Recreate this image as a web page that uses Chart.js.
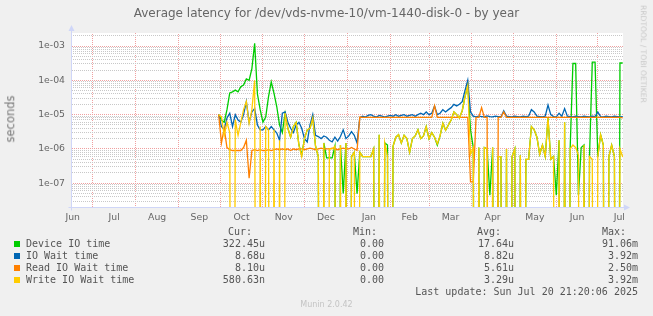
<!DOCTYPE html>
<html>
<head>
<meta charset="utf-8">
<script src="https://cdn.jsdelivr.net/npm/chart.js@4.4.0/dist/chart.umd.min.js"></script>
<style>
  html, body { margin: 0; padding: 0; background: #f0f0f0; }
  #wrap { position: relative; width: 653px; height: 316px; overflow: hidden; font-family: "DejaVu Sans", sans-serif; color: #666; }
  #chart { position: absolute; left: 0; top: 0; }
  .t { position: absolute; white-space: pre; line-height: 1; }
  .title { left: 0; width: 653px; top: 7px; text-align: center; font-size: 12px; }
  .ylab { left: 11px; top: 119px; font-size: 11.5px; color: #777; transform: translate(-50%, -50%) rotate(-90deg); }
  .rrd { left: 643px; top: 54px; font-size: 7.6px; color: #c8c8c8; transform: translate(-50%, -50%) rotate(90deg); }
  .munin { left: 0; width: 653px; top: 301px; text-align: center; font-size: 8px; color: #c4c4c4; }
  .lg { position: absolute; white-space: pre; font-family: "DejaVu Sans Mono", monospace; font-size: 10px; line-height: 12px; color: #555; }
  .sq { position: absolute; width: 6px; height: 6px; }
</style>
</head>
<body>
<div id="wrap">
  <canvas id="chart" width="653" height="316"></canvas>
  <div class="t title">Average latency for /dev/vds-nvme-10/vm-1440-disk-0 - by year</div>
  <div class="t ylab">seconds</div>
  <div class="t rrd">RRDTOOL / TOBI OETIKER</div>
  <div class="t munin">Munin 2.0.42</div>
  <div id="legend"></div>
</div>
<script>
// x positions in days since 2024-06-16 (left edge of the plot)
const days = [106,108,110,112,114,116,118,120,122,124,
  126,128,130,132,134,136,138,140,142,144,
  146,148,150,152,154,156,158,160,162,164,
  166,168,170,172,174,176,178,180,182,184,
  186,188,190,192,194,196,198,200,202,204,
  206,208,210,212,214,216,218,220,222,224,
  226,228,230,232,234,236,238,240,242,244,
  246,248,250,252,254,256,258,260,262,264,
  266,268,270,272,274,276,278,280,282,284,
  286,288,290,292,294,296,298,300,302,304,
  306,308,310,312,314,316,318,320,322,324,
  326,328,330,332,334,336,338,340,342,344,
  346,348,350,352,354,356,358,360,362,364,
  366,368,370,372,374,376,378,380,382,384,
  386,388,390,392,394,396,398];

// seconds; 0 = no latency (drawn down to the bottom edge)
const deviceIO = [1e-5,7e-6,6e-6,1.4e-5,4.3e-5,4.6e-5,5.2e-5,4.6e-5,6.5e-5,7.3e-5,
  1.1e-4,1e-4,2.2e-4,1.2e-3,4e-5,1.4e-5,6e-6,8.5e-6,3.3e-5,9e-5,
  4.2e-5,1.7e-5,5e-6,3e-6,1.1e-5,4e-6,2.2e-6,4.5e-6,6e-6,1.3e-6,
  6.7e-7,2e-6,3.6e-6,4e-6,8e-6,1.2e-6,6e-7,0,1.5e-6,5.5e-7,
  5.5e-7,5.5e-7,1.2e-6,0,1.3e-6,5e-8,1.5e-6,0,6e-7,8e-7,
  5e-8,8e-7,6e-7,6e-7,6e-7,6e-7,1e-6,0,2.6e-6,0,
  1.5e-6,1.3e-6,0,1.2e-6,2.2e-6,2.6e-6,1.5e-6,2.5e-6,2e-6,8e-7,
  2e-6,2.4e-6,3.6e-6,2e-6,2.4e-6,4.5e-6,2e-6,3e-6,2.2e-6,1.3e-6,
  2.4e-6,5.6e-6,3.5e-6,5e-6,7e-6,1.2e-5,1e-5,8e-6,1.3e-5,3.3e-5,
  7e-5,3.6e-6,1.1e-6,0,1.1e-6,0,1.1e-6,1e-6,4.5e-8,1.1e-6,
  0,6e-7,6e-7,0,1e-6,0,6e-7,1e-6,0,6.5e-7,
  0,5e-7,5e-7,4.5e-6,3.6e-6,2.2e-6,7e-7,1.3e-6,6e-7,8e-6,
  5e-7,6e-7,4.5e-8,1.8e-6,0,6e-6,0,1e-6,3.1e-4,3.1e-4,
  4.5e-8,1.1e-6,1.3e-6,0,6e-7,3.4e-4,3.4e-4,6e-7,2.6e-6,1.3e-6,
  0,6e-7,1.3e-6,6e-7,0,3.2e-4,3.2e-4];

const ioWait = [1e-5,4.5e-6,3.6e-6,8e-6,1.1e-5,4.5e-6,1e-5,7e-6,6e-6,1e-5,
  2.4e-5,6e-6,1.2e-5,1.5e-5,5e-6,3.6e-6,3.6e-6,4.5e-6,3.6e-6,4.5e-6,
  3.6e-6,2.9e-6,1.8e-6,1.1e-5,1.2e-5,6e-6,4e-6,3e-6,5e-6,6e-6,
  4e-6,2e-6,1.6e-6,5e-6,1e-5,2.5e-6,2.3e-6,2e-6,2.4e-6,2.2e-6,
  1.8e-6,1.6e-6,2.2e-6,1.7e-6,2.3e-6,3.6e-6,2e-6,2.4e-6,3.2e-6,2.5e-6,
  1.5e-6,8.2e-6,9e-6,8.5e-6,9.5e-6,1e-5,9e-6,8.5e-6,9.5e-6,9e-6,
  8.5e-6,9e-6,9.5e-6,9e-6,1e-5,9e-6,9.5e-6,1e-5,9e-6,9.5e-6,
  1e-5,9e-6,1e-5,1.1e-5,1e-5,1.2e-5,1e-5,1.1e-5,1.8e-5,1e-5,
  1.1e-5,1.4e-5,1.2e-5,1.4e-5,1.6e-5,2e-5,1.8e-5,2e-5,2.4e-5,5e-5,
  1e-4,1.2e-5,9e-6,8.6e-6,9e-6,8.8e-6,8.6e-6,9.2e-6,8.8e-6,8.6e-6,
  9e-6,8.8e-6,8.6e-6,1.3e-5,9e-6,8.8e-6,8.6e-6,9e-6,8.8e-6,8.6e-6,
  9e-6,8.8e-6,9e-6,1.4e-5,1.2e-5,9e-6,8.8e-6,8.6e-6,9e-6,1.9e-5,
  1e-5,8.8e-6,8.6e-6,1.1e-5,9e-6,1.5e-5,9e-6,8.8e-6,8.6e-6,9e-6,
  8.8e-6,8.6e-6,9e-6,8.8e-6,8.6e-6,9e-6,8.8e-6,1.2e-5,8.8e-6,8.6e-6,
  9e-6,8.8e-6,8.6e-6,9e-6,8.8e-6,8.6e-6,8.7e-6];

const readWait = [1e-5,1.5e-6,4e-6,1.1e-6,9.5e-7,9e-7,9e-7,9e-7,9e-7,1.1e-6,
  1.8e-6,1.4e-7,9e-7,9.5e-7,9e-7,9.5e-7,9e-7,9e-7,9.5e-7,9e-7,
  9.5e-7,1e-6,9.5e-7,1e-6,9.5e-7,1e-6,9e-7,1e-6,9.5e-7,1e-6,
  1e-6,9.5e-7,1e-6,1.05e-6,1e-6,9.5e-7,1e-6,1.05e-6,1e-6,1e-6,
  1e-6,1.05e-6,1e-6,9.5e-7,1e-6,1.05e-6,1e-6,1e-6,1.1e-6,1e-6,
  9e-7,8.5e-6,8.3e-6,8.3e-6,8.3e-6,8.3e-6,8.3e-6,8.3e-6,8.3e-6,8.3e-6,
  8.3e-6,8.3e-6,8.3e-6,8.3e-6,8.3e-6,8.3e-6,8.3e-6,8.3e-6,8.3e-6,8.3e-6,
  8.3e-6,8.3e-6,8.3e-6,8.3e-6,8.3e-6,8.3e-6,8.3e-6,8.3e-6,1.8e-5,8.3e-6,
  8.3e-6,8.3e-6,8.3e-6,8.3e-6,8.3e-6,8.3e-6,8.3e-6,8.3e-6,8.3e-6,8.3e-6,
  8.3e-6,1.1e-7,1.1e-7,8.3e-6,8.3e-6,1.6e-5,8.3e-6,8.3e-6,0,0,
  0,8.3e-6,8.3e-6,1.2e-5,8.3e-6,8.3e-6,8.3e-6,8.3e-6,8.3e-6,8.3e-6,
  8.3e-6,8.3e-6,8.3e-6,8.3e-6,8.3e-6,8.3e-6,8.3e-6,8.3e-6,8.3e-6,8.3e-6,
  8.3e-6,8.3e-6,8.3e-6,8.3e-6,8.3e-6,8.3e-6,8.3e-6,8.3e-6,8.3e-6,8.3e-6,
  8.3e-6,8.3e-6,8.3e-6,8.3e-6,8.3e-6,8.3e-6,8.3e-6,8.3e-6,8.3e-6,8.3e-6,
  8.3e-6,8.3e-6,8.3e-6,8.3e-6,8.3e-6,8.3e-6,8.1e-6];

const writeWait = [1e-5,8.7e-6,2.5e-6,6e-6,3e-6,0,7e-6,2.5e-6,6e-6,1.4e-5,
  2.4e-5,5.5e-6,1.4e-5,1e-4,0,4.5e-6,0,4.5e-6,3.6e-6,0,
  3.6e-6,0,1.8e-6,0,1.1e-5,4e-6,2.2e-6,4.5e-6,6e-6,1.3e-6,
  6e-7,2e-6,3.6e-6,4e-6,8e-6,1.2e-6,6e-7,0,1.5e-6,0,
  1e-6,1e-6,1.2e-6,0,1.3e-6,0,1.5e-6,0,6e-7,8e-7,
  0,8e-7,6e-7,6e-7,6e-7,6e-7,1e-6,0,2.6e-6,0,
  1.5e-6,6e-7,0,1.2e-6,2.2e-6,2.6e-6,1.5e-6,2.5e-6,2e-6,8e-7,
  2e-6,2.4e-6,3.6e-6,2e-6,2.4e-6,4.5e-6,2e-6,3e-6,2.2e-6,1.4e-6,
  2.4e-6,5.6e-6,3.5e-6,5e-6,7e-6,1.2e-5,1e-5,8e-6,1.3e-5,3.3e-5,
  7e-5,7e-7,1.1e-6,0,1.1e-6,0,1.1e-6,1e-6,0,1.1e-6,
  0,6e-7,6e-7,0,1e-6,0,6e-7,1e-6,0,6.5e-7,
  0,5e-7,5e-7,4.5e-6,3.6e-6,2.2e-6,7e-7,1.3e-6,6e-7,8e-6,
  5e-7,6e-7,0,1.8e-6,0,6e-6,0,1e-6,1.3e-6,1.1e-6,
  6.5e-7,0,1.3e-6,0,6e-7,5e-7,0,6e-7,2.6e-6,1.3e-6,
  0,6e-7,1.3e-6,6e-7,0,1e-6,5.8e-7];

const monthStartDays = [15,46,77,107,138,168,199,230,258,289,319,350,380];
const monthLabelDays = [0.5,30.5,61.5,92,122.5,153,183.5,214.5,244,273.5,304,334.5,365,395.5];
const monthLabels = ['Jun','Jul','Aug','Sep','Oct','Nov','Dec','Jan','Feb','Mar','Apr','May','Jun','Jul'];
const yDecades = [1e-7,1e-6,1e-5,1e-4,1e-3];
const yTickLabels = ['1e-07','1e-06','1e-05','1e-04','1e-03'];

const seriesNames = ['Device IO time','IO Wait time','Read IO Wait time','Write IO Wait time'];
const seriesColors = ['#00cc00','#0066b3','#ff8000','#ffcc00'];
const legendCur = ['322.45u','8.68u','8.10u','580.63n'];
const legendMin = ['0.00','0.00','0.00','0.00'];
const legendAvg = ['17.64u','8.82u','5.61u','3.29u'];
const legendMax = ['91.06m','3.92m','2.50m','3.92m'];
const lastUpdate = 'Last update: Sun Jul 20 21:20:06 2025';

const Y_MIN = 1.9e-8, Y_MAX = 2.4e-3;
const axisColor = '#cfd6f8';

// rrdtool grid lines are dotted: checkerboard pattern as stroke colour
function dots(color) {
    const c = document.createElement('canvas');
    c.width = 2; c.height = 2;
    const g = c.getContext('2d');
    g.fillStyle = color;
    g.fillRect(0, 0, 1, 1);
    g.fillRect(1, 1, 1, 1);
    return g.createPattern(c, 'repeat');
}
const majorGrid = dots('#f0a0a0');
const minorGrid = dots('#c8c8c8');

function toPoints(arr) {
    // zero can not sit on a log axis: push it far below the bottom, it gets clipped
    return days.map((d, i) => ({ x: d, y: arr[i] > 0 ? arr[i] : 1e-30 }));
}

function decadeIndex(v) {
    return yDecades.findIndex(d => Math.abs(v / d - 1) < 1e-6);
}

const munFrame = {
    id: 'munFrame',
    beforeDraw(chart) {
        const { ctx, chartArea: a } = chart;
        ctx.save();
        ctx.fillStyle = '#ffffff';
        ctx.fillRect(a.left, a.top, a.right - a.left, a.bottom - a.top);
        ctx.restore();
    },
    afterDraw(chart) {
        const { ctx, chartArea: a } = chart;
        const x0 = Math.round(a.left) - 0.5;
        const y0 = Math.round(a.bottom) - 0.5;
        ctx.save();
        ctx.strokeStyle = axisColor;
        ctx.fillStyle = axisColor;
        ctx.lineWidth = 1;
        ctx.beginPath();
        ctx.moveTo(x0 - 3, y0); ctx.lineTo(a.right + 4, y0);
        ctx.moveTo(x0, y0 + 3); ctx.lineTo(x0, a.top - 4);
        ctx.stroke();
        ctx.beginPath();
        ctx.moveTo(a.right + 1, y0 - 3); ctx.lineTo(a.right + 7, y0); ctx.lineTo(a.right + 1, y0 + 3);
        ctx.closePath(); ctx.fill();
        ctx.beginPath();
        ctx.moveTo(x0 - 3, a.top - 2); ctx.lineTo(x0, a.top - 8); ctx.lineTo(x0 + 3, a.top - 2);
        ctx.closePath(); ctx.fill();
        ctx.restore();
    }
};

const series = [deviceIO, ioWait, readWait, writeWait];

new Chart(document.getElementById('chart'), {
    type: 'line',
    data: {
        datasets: series.map((arr, i) => ({
            label: seriesNames[i],
            data: toPoints(arr),
            borderColor: seriesColors[i],
            borderWidth: 1.3,
            pointRadius: 0,
            tension: 0,
            order: 4 - i  // later series on top, like rrdtool
        }))
    },
    options: {
        responsive: false,
        animation: false,
        devicePixelRatio: 1,
        layout: { padding: { left: 0, top: 33, right: 30, bottom: 0 } },
        plugins: { legend: { display: false }, tooltip: { enabled: false }, title: { display: false } },
        scales: {
            x: {
                type: 'linear',
                min: 0,
                max: 398.2,
                afterFit: s => { s.height = 108; },
                afterBuildTicks: s => {
                    s.ticks = [...monthStartDays, ...monthLabelDays]
                        .sort((a, b) => a - b)
                        .map(v => ({ value: v }));
                },
                grid: {
                    drawTicks: false,
                    color: c => monthStartDays.includes(c.tick.value) ? majorGrid : 'rgba(0,0,0,0)',
                    lineWidth: 1
                },
                border: { display: false },
                ticks: {
                    autoSkip: false,
                    maxRotation: 0,
                    minRotation: 0,
                    padding: 4,
                    color: '#666',
                    font: { family: 'DejaVu Sans', size: 9.3 },
                    callback: v => {
                        const k = monthLabelDays.indexOf(v);
                        return k >= 0 ? monthLabels[k] : '';
                    }
                }
            },
            y: {
                type: 'logarithmic',
                min: Y_MIN,
                max: Y_MAX,
                afterFit: s => { s.width = 72; },
                afterBuildTicks: s => {
                    const t = [];
                    for (let e = -8; e <= -3; e++) {
                        for (let m = 1; m <= 9; m++) {
                            const v = Number(m + 'e' + e);
                            if (v >= Y_MIN && v <= Y_MAX) t.push({ value: v });
                        }
                    }
                    s.ticks = t;
                },
                grid: {
                    drawTicks: false,
                    color: c => decadeIndex(c.tick.value) >= 0 ? majorGrid : minorGrid,
                    lineWidth: 1
                },
                border: { display: false },
                ticks: {
                    autoSkip: false,
                    padding: 7,
                    color: '#666',
                    font: { family: 'DejaVu Sans', size: 9.3 },
                    callback: v => {
                        const k = decadeIndex(v);
                        return k >= 0 ? yTickLabels[k] : '';
                    }
                }
            }
        }
    },
    plugins: [munFrame]
});

// rrdtool style legend under the graph
const lg = document.getElementById('legend');
function put(text, style) {
    const el = document.createElement('div');
    el.className = 'lg';
    el.textContent = text;
    Object.assign(el.style, style);
    lg.appendChild(el);
}
put('Cur:', { top: '226px', right: '401px' });
put('Min:', { top: '226px', right: '276px' });
put('Avg:', { top: '226px', right: '152px' });
put('Max:', { top: '226px', right: '27px' });
seriesNames.forEach((name, i) => {
    const top = 238 + i * 12;
    const sq = document.createElement('div');
    sq.className = 'sq';
    sq.style.left = '14px';
    sq.style.top = (top + 3) + 'px';
    sq.style.background = seriesColors[i];
    lg.appendChild(sq);
    put(name, { top: top + 'px', left: '26px' });
    put(legendCur[i], { top: top + 'px', right: '388px' });
    put(legendMin[i], { top: top + 'px', right: '269px' });
    put(legendAvg[i], { top: top + 'px', right: '139px' });
    put(legendMax[i], { top: top + 'px', right: '15px' });
});
put(lastUpdate, { top: '286px', right: '15px' });
</script>
</body>
</html>
